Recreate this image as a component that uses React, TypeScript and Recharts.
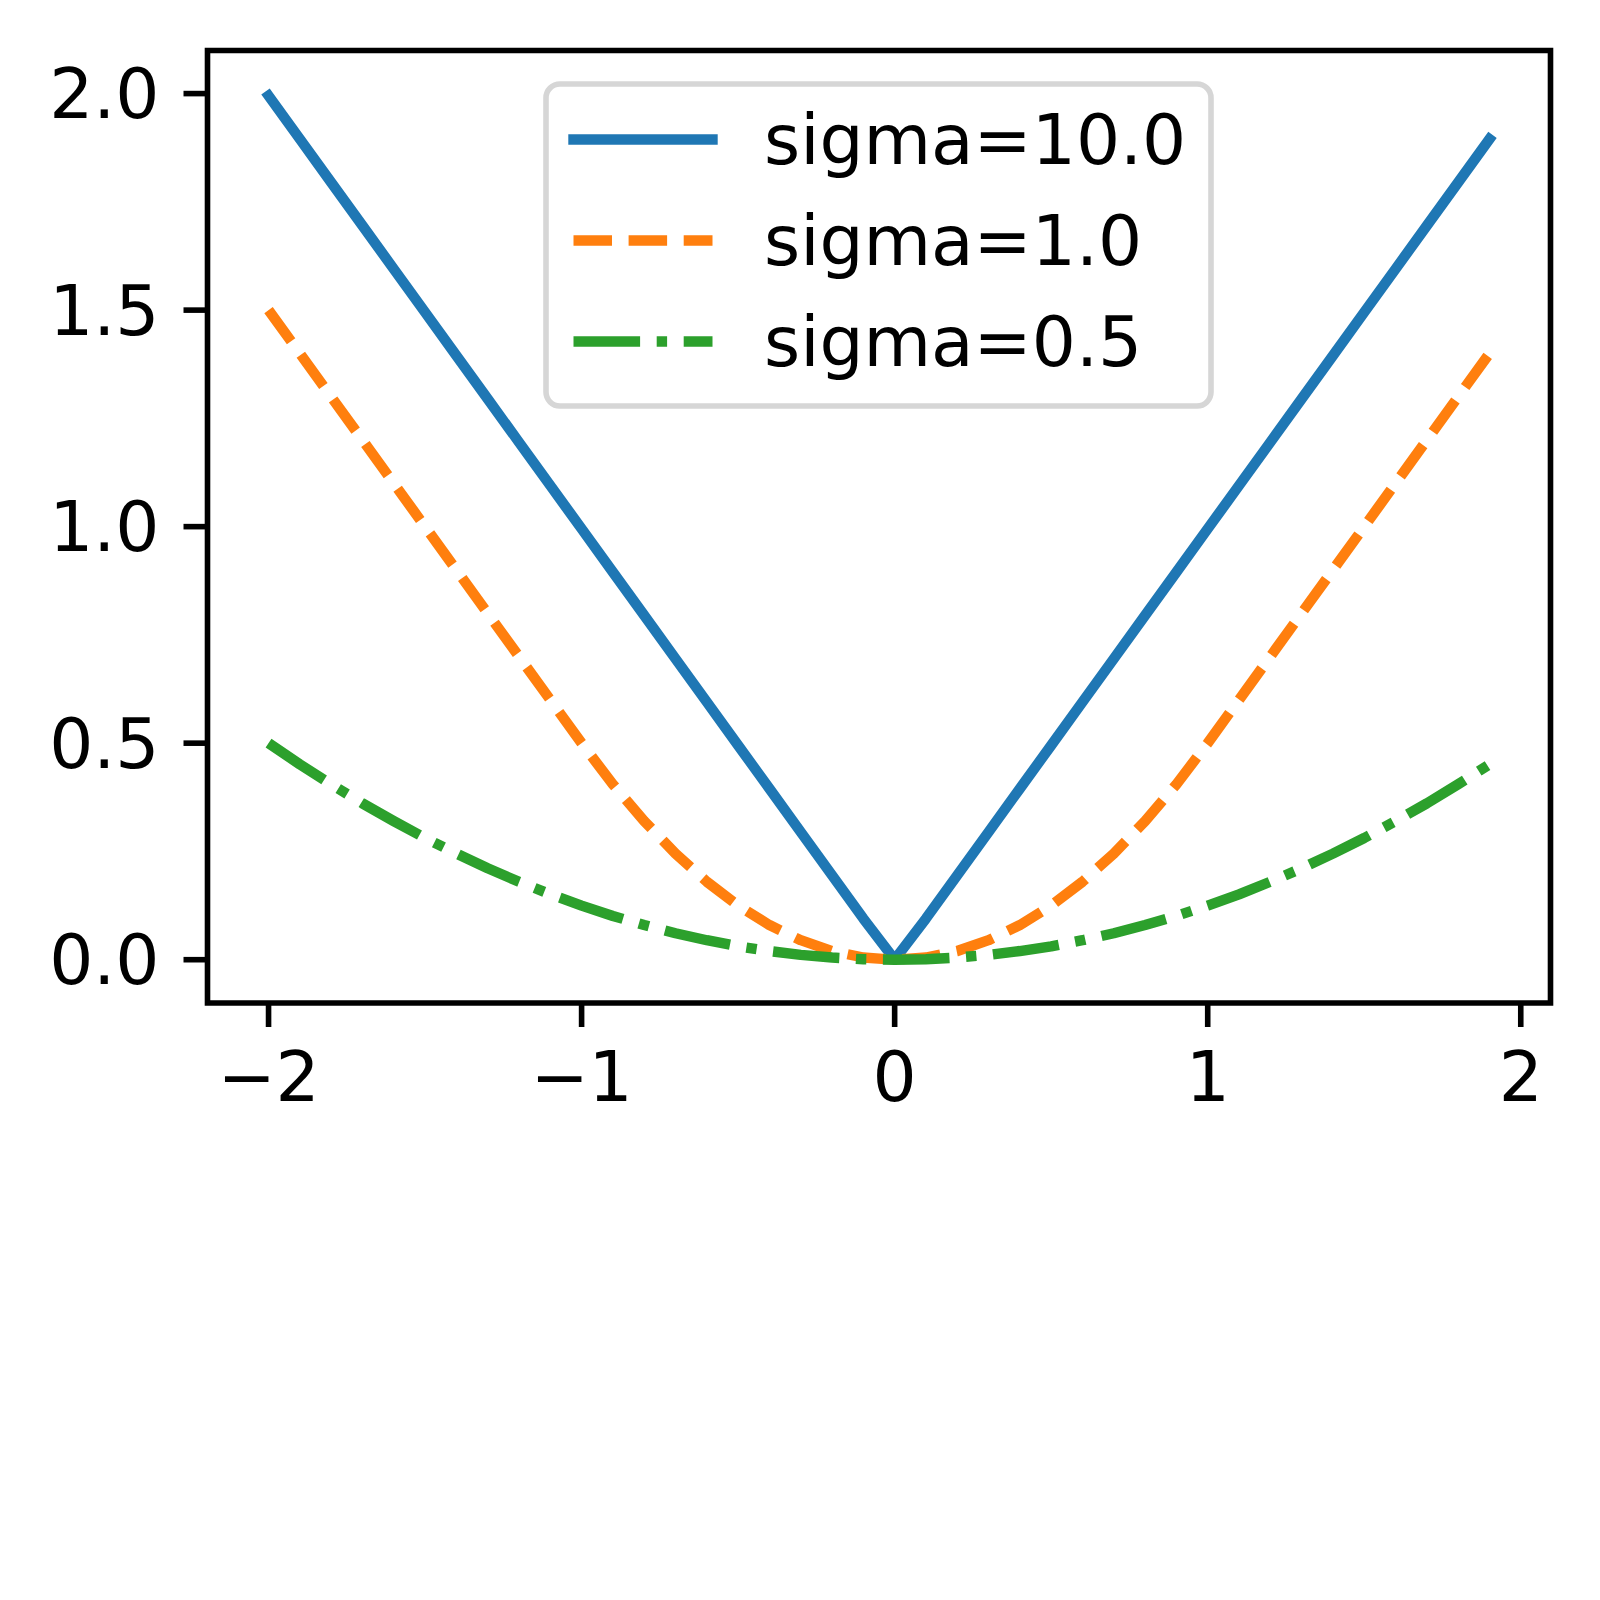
import { LineChart, Line, XAxis, YAxis, ReferenceArea, Legend } from 'recharts';

// x sampled every 0.1 from -2.0 to 1.9
const xs = [
  -2.0, -1.9, -1.8, -1.7, -1.6, -1.5, -1.4, -1.3, -1.2, -1.1,
  -1.0, -0.9, -0.8, -0.7, -0.6, -0.5, -0.4, -0.3, -0.2, -0.1,
  0.0, 0.1, 0.2, 0.3, 0.4, 0.5, 0.6, 0.7, 0.8, 0.9,
  1.0, 1.1, 1.2, 1.3, 1.4, 1.5, 1.6, 1.7, 1.8, 1.9,
];

const sigma10 = [
  1.995, 1.895, 1.795, 1.695, 1.595, 1.495, 1.395, 1.295, 1.195, 1.095,
  0.995, 0.895, 0.795, 0.695, 0.595, 0.495, 0.395, 0.295, 0.195, 0.095,
  0.0, 0.095, 0.195, 0.295, 0.395, 0.495, 0.595, 0.695, 0.795, 0.895,
  0.995, 1.095, 1.195, 1.295, 1.395, 1.495, 1.595, 1.695, 1.795, 1.895,
];

const sigma1 = [
  1.5, 1.4, 1.3, 1.2, 1.1, 1.0, 0.9, 0.8, 0.7, 0.6,
  0.5, 0.405, 0.32, 0.245, 0.18, 0.125, 0.08, 0.045, 0.02, 0.005,
  0.0, 0.005, 0.02, 0.045, 0.08, 0.125, 0.18, 0.245, 0.32, 0.405,
  0.5, 0.6, 0.7, 0.8, 0.9, 1.0, 1.1, 1.2, 1.3, 1.4,
];

const sigma05 = [
  0.5, 0.451, 0.405, 0.361, 0.32, 0.281, 0.245, 0.211, 0.18, 0.151,
  0.125, 0.101, 0.08, 0.061, 0.045, 0.031, 0.02, 0.011, 0.005, 0.001,
  0.0, 0.001, 0.005, 0.011, 0.02, 0.031, 0.045, 0.061, 0.08, 0.101,
  0.125, 0.151, 0.18, 0.211, 0.245, 0.281, 0.32, 0.361, 0.405, 0.451,
];

const xTicks = [-2, -1, 0, 1, 2];
const yTicks = [0, 0.5, 1.0, 1.5, 2.0];
const xDomain = [-2.195, 2.095];
const yDomain = [-0.1, 2.0995];

const series = [
  { key: 's10', name: 'sigma=10.0', color: '#1f77b4', dash: undefined, cap: 'square' },
  { key: 's1', name: 'sigma=1.0', color: '#ff7f0e', dash: '38.5 16.6', cap: 'butt' },
  { key: 's05', name: 'sigma=0.5', color: '#2ca02c', dash: '66.6 16.6 10.4 16.6', cap: 'butt' },
];

const data = xs.map((x, i) => ({ x, s10: sigma10[i], s1: sigma1[i], s05: sigma05[i] }));

const FONT = 'DejaVu Sans';
const FS = 69.4;
const LW = 10.4;

const fmtX = (v: number) => (v < 0 ? '\u2212' + Math.abs(v) : String(v));

function LegendBox() {
  return (
    <svg width={680} height={340} style={{ display: 'block' }}>
      <rect x={6} y={6} width={665} height={322} rx={14} ry={14}
        fill="#fff" fillOpacity={0.8} stroke="#d6d6d6" strokeWidth={5.6} />
      {series.map((s, i) => {
        const cy = 61.5 + i * 101;
        return (
          <g key={s.key}>
            <line x1={33.5} x2={172.5} y1={cy} y2={cy} stroke={s.color} strokeWidth={LW}
              strokeDasharray={s.dash} strokeLinecap={s.cap as any} />
            <text x={224} y={cy + 24.5} fontFamily={FONT} fontSize={FS} fill="#000">{s.name}</text>
          </g>
        );
      })}
    </svg>
  );
}

export default function App() {
  return (
    <div style={{ position: 'absolute', left: 0, top: 0, width: 1600, height: 1600, background: '#fff' }}>
      <LineChart width={1600} height={1600} data={data}
        margin={{ top: 50.5, right: 49.5, left: 0, bottom: 0 }}>
        <XAxis type="number" dataKey="x" domain={xDomain} ticks={xTicks} interval={0}
          allowDataOverflow height={597} axisLine={false}
          tickSize={24} tickMargin={25} tickFormatter={fmtX}
          tickLine={{ stroke: '#000', strokeWidth: 5.6 }}
          tick={{ fill: '#000', fontSize: FS, fontFamily: FONT }} />
        <YAxis type="number" domain={yDomain} ticks={yTicks} interval={0}
          allowDataOverflow width={207.5} axisLine={false}
          tickSize={24} tickMargin={24} tickFormatter={(v: number) => v.toFixed(1)}
          tickLine={{ stroke: '#000', strokeWidth: 5.6 }}
          tick={{ fill: '#000', fontSize: FS, fontFamily: FONT }} />
        {series.map((s) => (
          <Line key={s.key} type="linear" dataKey={s.key} name={s.name}
            stroke={s.color} strokeWidth={LW} strokeDasharray={s.dash}
            strokeLinecap={s.cap as any} strokeLinejoin="round"
            dot={false} activeDot={false} isAnimationActive={false} />
        ))}
        <ReferenceArea x1={xDomain[0]} x2={xDomain[1]} y1={yDomain[0]} y2={yDomain[1]}
          fill="none" fillOpacity={0} stroke="#000" strokeWidth={5.6} ifOverflow="visible" />
        <Legend layout="vertical" align="center" verticalAlign="middle"
          wrapperStyle={{ position: 'absolute', left: 540, top: 78, width: 680, height: 340 }}
          content={() => <LegendBox />} />
      </LineChart>
    </div>
  );
}
